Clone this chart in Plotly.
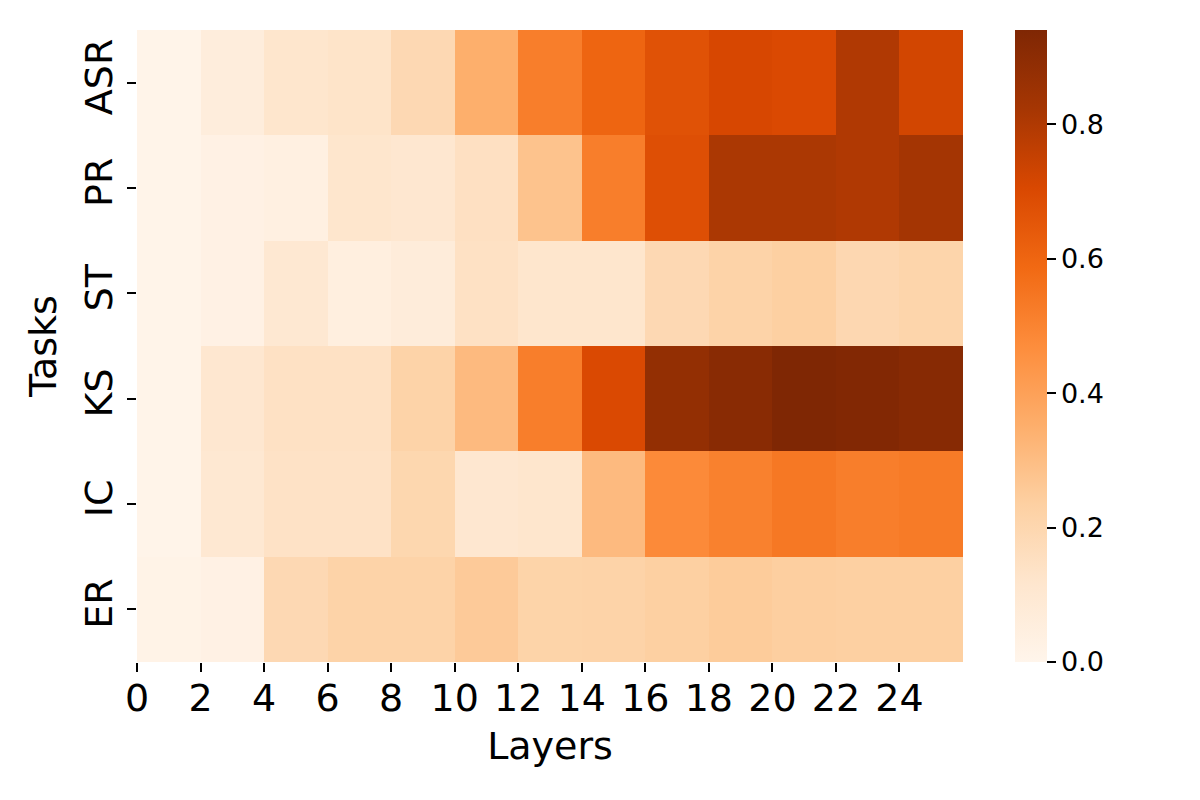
import plotly.graph_objects as go

tasks = ["ASR", "PR", "ST", "KS", "IC", "ER"]
layers = [0, 2, 4, 6, 8, 10, 12, 14, 16, 18, 20, 22, 24]
layer_edges = layers + [26]

asr = [0.01, 0.06, 0.12, 0.13, 0.19, 0.35, 0.52, 0.60, 0.67, 0.71, 0.70, 0.80, 0.72]
pr  = [0.01, 0.03, 0.04, 0.12, 0.11, 0.15, 0.28, 0.52, 0.68, 0.81, 0.81, 0.80, 0.83]
st  = [0.01, 0.03, 0.10, 0.05, 0.07, 0.145, 0.12, 0.12, 0.19, 0.22, 0.235, 0.195, 0.21]
ks  = [0.01, 0.11, 0.145, 0.145, 0.22, 0.31, 0.52, 0.70, 0.88, 0.91, 0.94, 0.93, 0.915]
ic  = [0.01, 0.10, 0.14, 0.14, 0.20, 0.11, 0.12, 0.31, 0.48, 0.51, 0.54, 0.52, 0.53]
er  = [0.015, 0.03, 0.19, 0.22, 0.22, 0.255, 0.215, 0.22, 0.235, 0.25, 0.24, 0.235, 0.235]

z = [asr, pr, st, ks, ic, er]
zmax = max(max(r) for r in z)

font_family = "DejaVu Sans"

fig = go.Figure(go.Heatmap(
    z=z,
    x=layer_edges,
    y=tasks,
    colorscale="Oranges",
    zmin=0,
    zmax=zmax,
    colorbar=dict(
        thickness=32,
        len=1,
        lenmode="fraction",
        x=(1015 - 137) / 826,
        xanchor="left",
        xpad=0,
        y=0.5,
        yanchor="middle",
        ypad=0,
        outlinewidth=0,
        ticks="outside",
        ticklen=9,
        tickwidth=2,
        tickcolor="black",
        tickvals=[0, 0.2, 0.4, 0.6, 0.8],
        ticktext=["0.0", "0.2", "0.4", "0.6", "0.8"],
        tickfont=dict(family=font_family, size=27, color="black"),
    ),
))

fig.update_layout(
    width=1200,
    height=800,
    margin=dict(l=129, r=245, t=22, b=146),
    paper_bgcolor="white",
    plot_bgcolor="white",
    font=dict(family=font_family, color="black"),
    xaxis=dict(
        range=[0, 26],
        tickvals=layers,
        ticktext=[str(v) for v in layers],
        ticks="outside",
        ticklen=9,
        tickwidth=2,
        tickcolor="black",
        ticklabelstandoff=-7,
        tickfont=dict(family=font_family, size=38, color="black"),
        showgrid=False,
        zeroline=False,
        showline=False,
        title=dict(text="Layers", font=dict(family=font_family, size=38, color="black"), standoff=13),
    ),
    yaxis=dict(
        range=[5.5, -0.5],
        ticks="outside",
        ticklen=9,
        tickwidth=2,
        tickcolor="black",
        tickangle=-90,
        tickfont=dict(family=font_family, size=38, color="black"),
        showgrid=False,
        zeroline=False,
        showline=False,
        title=dict(text="Tasks", font=dict(family=font_family, size=38, color="black"), standoff=8),
    ),
)

fig.write_html("out.html")
